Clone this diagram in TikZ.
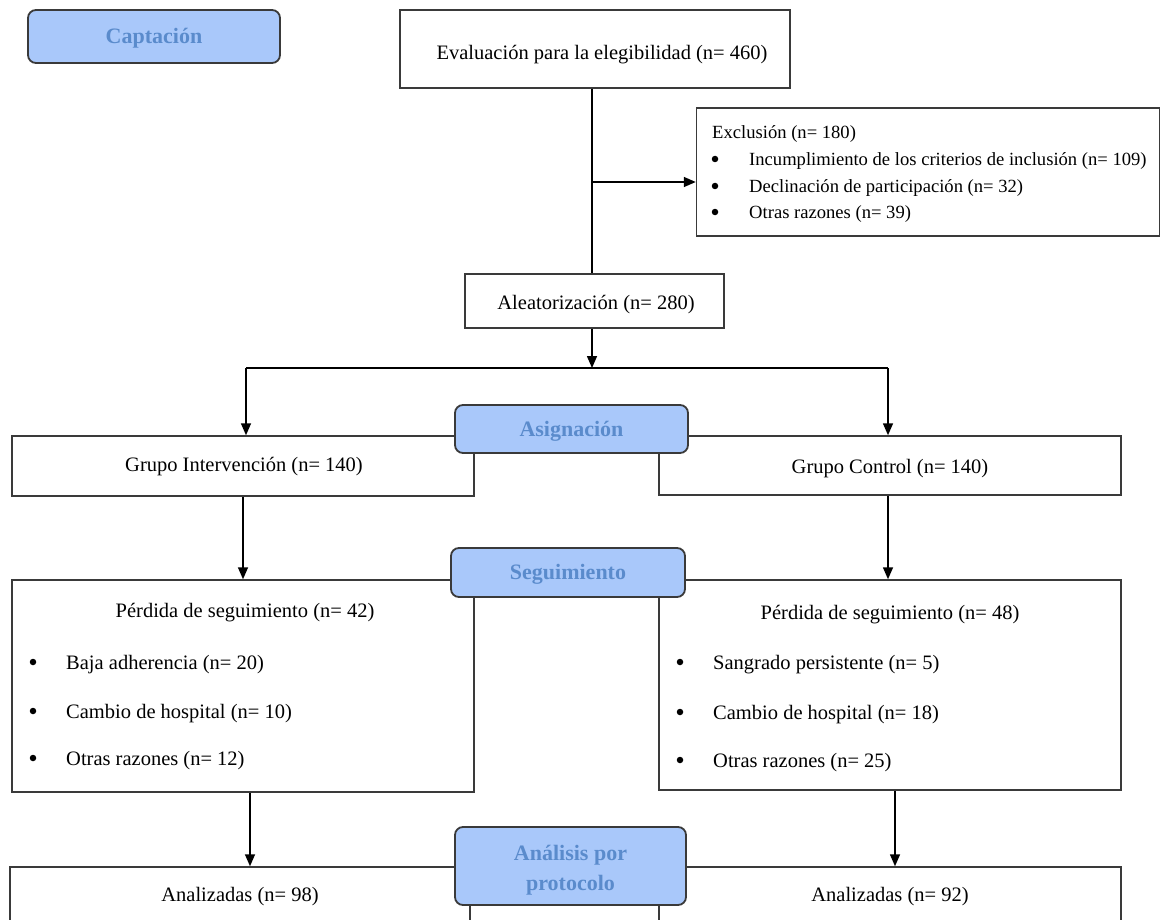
\documentclass[tikz,border=0pt]{standalone}
\usepackage{fontspec}
\setmainfont{Liberation Serif}
\usetikzlibrary{arrows.meta}
\definecolor{phasefill}{HTML}{A9C8FA}
\definecolor{phasetext}{HTML}{5A8BCC}
\definecolor{edge}{HTML}{3A3A3A}
\begin{document}
\begin{tikzpicture}[x=1pt,y=-1pt,
  box/.style={draw=edge, line width=1.5pt, fill=white, inner sep=0pt},
  phase/.style={draw=edge, line width=1.8pt, fill=phasefill, rounded corners=8pt,
    inner sep=0pt},
  phasetxt/.style={inner sep=0pt, text=phasetext, align=center,
    font=\fontsize{22}{30}\selectfont\bfseries},
  txt/.style={inner sep=0pt, font=\fontsize{20.5}{24}\selectfont},
  smalltxt/.style={inner sep=0pt, font=\fontsize{18.6}{22}\selectfont},
  conn/.style={draw=black, line width=1.6pt},
  arrow/.style={conn, -{Triangle[length=12pt,width=10pt]}},
  dot/.style={circle, fill=black, inner sep=0pt, minimum size=6.5pt}]
\clip (0,0) rectangle (1161,920);

% reference positions for branches
\coordinate (trunk) at (592,0);
\coordinate (brY) at (0,182);
\coordinate (splitY) at (0,368);
\coordinate (sl) at (246,368);
\coordinate (sr) at (888,368);
\coordinate (lx) at (250,0);
\coordinate (rx) at (895,0);

% boxes
\node[box, minimum width=390, minimum height=78] (eval) at (595,49) {};
\node[box, minimum width=463, minimum height=128] (excl) at (928,172) {};
\node[box, minimum width=259, minimum height=54] (alea) at (594.5,301) {};
\node[box, minimum width=462, minimum height=60] (gi) at (243,466) {};
\node[box, minimum width=462, minimum height=59] (gc) at (890,465.5) {};
\node[box, minimum width=462, minimum height=212] (pl) at (243,686) {};
\node[box, minimum width=462, minimum height=210] (pr) at (890,685) {};
\node[box, minimum width=460, minimum height=100] (al) at (240,917) {};
\node[box, minimum width=462, minimum height=100] (ar) at (890,917) {};

% single-line box texts
\node[txt] (evalT) at (602,55) {Evaluación para la elegibilidad (n= 460)};
\node[txt] (aleaT) at (596,305) {Aleatorización (n= 280)};
\node[txt] (giT) at (244,467) {Grupo Intervención (n= 140)};
\node[txt] (gcT) at (890,469) {Grupo Control (n= 140)};

% exclusion list
\node[smalltxt, anchor=west] (exclT) at (712,134) {Exclusión (n= 180)};
\node[dot] (ed1) at (715,159) {};
\node[dot] (ed2) at (715,186) {};
\node[dot] (ed3) at (715,212) {};
\node[smalltxt, anchor=west] (ex1) at (749,161) {Incumplimiento de los criterios de inclusión (n= 109)};
\node[smalltxt, anchor=west] (ex2) at (749,188) {Declinación de participación (n= 32)};
\node[smalltxt, anchor=west] (ex3) at (749,214) {Otras razones (n= 39)};

% losses, intervention group
\node[txt] (plT) at (245,613) {Pérdida de seguimiento (n= 42)};
\node[dot] (pld1) at (33,662) {};
\node[dot] (pld2) at (33,711) {};
\node[dot] (pld3) at (33,758) {};
\node[txt, anchor=west] (pl1) at (66,665) {Baja adherencia (n= 20)};
\node[txt, anchor=west] (pl2) at (66,714) {Cambio de hospital (n= 10)};
\node[txt, anchor=west] (pl3) at (66,761) {Otras razones (n= 12)};

% losses, control group
\node[txt] (prT) at (890,615) {Pérdida de seguimiento (n= 48)};
\node[dot] (prd1) at (680,662) {};
\node[dot] (prd2) at (680,712) {};
\node[dot] (prd3) at (680,760) {};
\node[txt, anchor=west] (pr1) at (713,665) {Sangrado persistente (n= 5)};
\node[txt, anchor=west] (pr2) at (713,715) {Cambio de hospital (n= 18)};
\node[txt, anchor=west] (pr3) at (713,763) {Otras razones (n= 25)};

% analysed
\node[txt] (alT) at (240,897) {Analizadas (n= 98)};
\node[txt] (arT) at (890,897) {Analizadas (n= 92)};

% connectors
\draw[conn] (eval.south -| trunk) -- (alea.north -| trunk);
\draw[arrow] (trunk |- brY) -- (excl.west |- brY);
\draw[arrow] (alea.south -| trunk) -- (trunk |- splitY);
\draw[conn] (sl) -- (sr);
\draw[arrow] (sl) -- (sl |- gi.north);
\draw[arrow] (sr) -- (sr |- gc.north);
\draw[arrow] (gi.south) -- (pl.north);
\draw[arrow] (sr |- gc.south) -- (sr |- pr.north);
\draw[arrow] (pl.south -| lx) -- (al.north -| lx);
\draw[arrow] (pr.south -| rx) -- (ar.north -| rx);

% phase labels
\node[phase, minimum width=252, minimum height=53] (capt) at (154,36.5) {};
\node[phasetxt] (captT) at (154,38.5) {Captación};
\node[phase, minimum width=233, minimum height=48] (asig) at (571.5,429) {};
\node[phasetxt] (asigT) at (571.5,431) {Asignación};
\node[phase, minimum width=234, minimum height=49] (seg) at (568,572.5) {};
\node[phasetxt] (segT) at (568,574.5) {Seguimiento};
\node[phase, minimum width=231, minimum height=78] (anal) at (570.5,866) {};
\node[phasetxt] (analT) at (570.5,870) {Análisis por\\protocolo};
\end{tikzpicture}
\end{document}
